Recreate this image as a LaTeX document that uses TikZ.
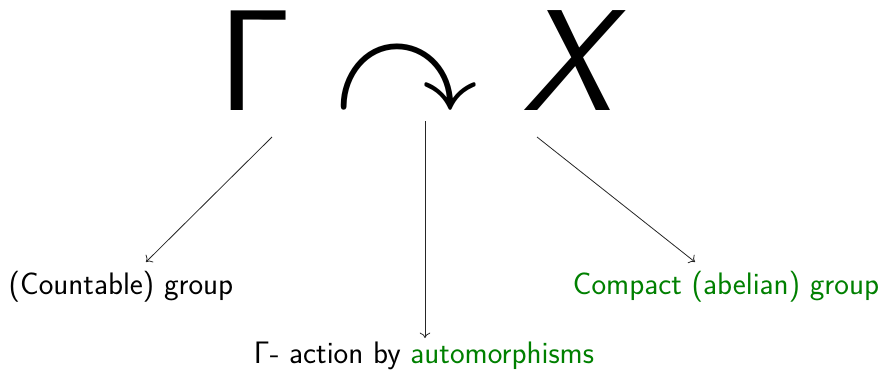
\documentclass[tikz,border=0pt]{standalone}
\usepackage{amssymb}
\usepackage{fontspec}
\usetikzlibrary{arrows.meta}
\definecolor{darkgreen}{rgb}{0,0.5,0}
\begin{document}
\begin{tikzpicture}[x=0.75pt,y=-0.75pt,
  big/.style={inner sep=0pt,anchor=base,text height=74pt,text depth=0pt,
    font=\fontsize{108}{108}\selectfont\sffamily},
  label/.style={inner sep=0pt,anchor=base,font=\fontsize{23.3}{27}\selectfont\sffamily},
  link/.style={-{To[length=4pt,width=8pt]},line width=0.6pt,draw=black!85}]
\useasboundingbox (0,0) rectangle (883,375);
% the action Gamma acting on X
\node[big] (gamma) at (255,110) {Γ};
\node[big,text height=52pt] (act) at (406,110) {\fontsize{108}{108}\selectfont$\curvearrowright$};
\node[big] (x) at (567,110) {\itshape X};
% labels
\node[label] (grp) at (121,294) {(Countable) group};
\node[label] (aut) at (424,363) {Γ- action by \textcolor{darkgreen}{automorphisms}};
\node[label,text=darkgreen] (cpt) at (726,294) {Compact (abelian) group};
% connector ends
\coordinate (gs) at (272,137);
\coordinate (as) at (425,121);
\coordinate (xs) at (537,137);
\coordinate (ge) at (146,262);
\coordinate (ae) at (425,338);
\coordinate (xe) at (695,262);
\draw[link] (gs) -- (ge);
\draw[link] (as) -- (ae);
\draw[link] (xs) -- (xe);
\end{tikzpicture}
\end{document}
